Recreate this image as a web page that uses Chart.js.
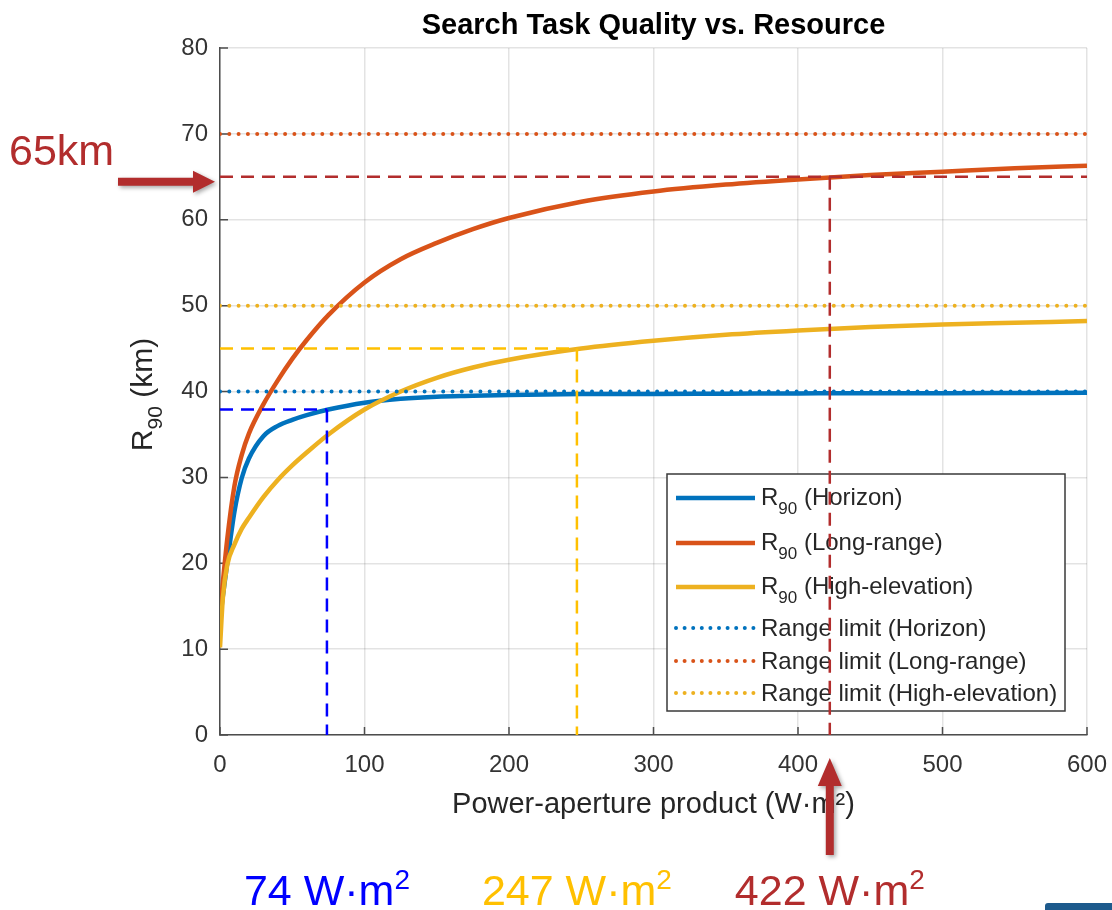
<!DOCTYPE html>
<html>
<head>
<meta charset="utf-8">
<title>Search Task Quality vs. Resource</title>
<script src="https://cdn.jsdelivr.net/npm/chart.js@4.4.1/dist/chart.umd.min.js"></script>
<style>
  html, body { margin: 0; padding: 0; background: #fff; }
  #wrap { width: 1112px; height: 910px; }
</style>
</head>
<body>
<div id="wrap"><canvas id="rangeChart" width="1112" height="910"></canvas></div>
<script>
// power-aperture product (W·m²) where the curves are sampled
const power = [0, 2, 5, 10, 15, 20, 30, 40, 50, 60, 75, 100, 125, 150, 175, 200, 250, 300, 350, 400, 450, 500, 550, 600];

// R90 (km) per search sector
const horizonR90   = [13.5, 16.2, 20.0, 26.0, 29.9, 32.2, 34.8, 36.0, 36.7, 37.25, 37.9, 38.7, 39.15, 39.4, 39.5, 39.6, 39.7, 39.72, 39.75, 39.78, 39.8, 39.8, 39.82, 39.85];
const longRangeR90 = [14.2, 17.8, 22.8, 29.0, 32.6, 35.1, 38.5, 41.3, 43.8, 46.0, 48.9, 52.7, 55.4, 57.3, 58.9, 60.2, 62.1, 63.3, 64.1, 64.7, 65.2, 65.6, 66.0, 66.3];
const highElevR90  = [10.2, 16.0, 19.8, 22.2, 24.0, 25.3, 27.7, 29.7, 31.4, 32.9, 35.0, 37.9, 40.0, 41.6, 42.8, 43.7, 45.0, 45.9, 46.6, 47.1, 47.5, 47.8, 48.0, 48.2];

// sector range limits (km)
const rangeLimits = [40, 70, 50];

// operating points: required power-aperture and the R90 reached there
const opPower = [74, 247, 422];
const opRange = [37.9, 45.0, 65];
const opGuideEnd = [74, 247, 600];   // how far the horizontal guide runs

const seriesNames = ['Horizon', 'Long-range', 'High-elevation'];
const xTicks = [0, 100, 200, 300, 400, 500, 600];
const yTicks = [0, 10, 20, 30, 40, 50, 60, 70, 80];

const FONT = '"Liberation Sans", Arial, Helvetica, sans-serif';
const curveColors = ['#0072BD', '#D95319', '#EDB120'];
const opColors = ['#0000FF', '#FFC000', '#B22D2D'];
const curves = [horizonR90, longRangeR90, highElevR90];

const datasets = [];
curves.forEach((ys, i) => {
    datasets.push({
        label: 'R90 (' + seriesNames[i] + ')',
        data: power.map((p, k) => ({ x: p, y: ys[k] })),
        borderColor: curveColors[i],
        borderWidth: 4.5,
        pointRadius: 0,
        cubicInterpolationMode: 'monotone',
        order: 5 - i
    });
});
rangeLimits.forEach((v, i) => {
    datasets.push({
        label: 'Range limit (' + seriesNames[i] + ')',
        data: [{ x: xTicks[0], y: v }, { x: xTicks[xTicks.length - 1], y: v }],
        borderColor: curveColors[i],
        borderWidth: 4,
        borderDash: [0, 9.3],
        borderCapStyle: 'round',
        pointRadius: 0,
        order: 2
    });
});
opPower.forEach((p, i) => {
    const r = opRange[i];
    const end = opGuideEnd[i];
    datasets.push({
        label: 'op' + i,
        data: [{ x: 0, y: r }, { x: end, y: r }, { x: end, y: null }, { x: p, y: r }, { x: p, y: 0 }],
        borderColor: opColors[i],
        borderWidth: 2.5,
        borderDash: [13, 8],
        pointRadius: 0,
        spanGaps: false,
        order: 1
    });
});

// text made of pieces with their own size and vertical shift (sub/superscripts)
function richWidth(ctx, parts, weight) {
    let w = 0;
    parts.forEach(p => {
        ctx.font = (weight || '') + ' ' + p.size + 'px ' + FONT;
        w += ctx.measureText(p.text).width;
    });
    return w;
}
function drawRich(ctx, parts, x, y, align, color, weight) {
    const w = richWidth(ctx, parts, weight);
    let cx = align === 'center' ? x - w / 2 : (align === 'right' ? x - w : x);
    ctx.fillStyle = color;
    ctx.textAlign = 'left';
    ctx.textBaseline = 'alphabetic';
    parts.forEach(p => {
        ctx.font = (weight || '') + ' ' + p.size + 'px ' + FONT;
        ctx.fillText(p.text, cx, y + (p.dy || 0));
        cx += ctx.measureText(p.text).width;
    });
}

function r90Parts(rest, size, subSize, subDy) {
    return [
        { text: 'R', size: size },
        { text: '90', size: subSize, dy: subDy },
        { text: rest, size: size }
    ];
}

// legend box, tick marks and the axes decoration under the curves
const underlayPlugin = {
    id: 'underlay',
    beforeDatasetsDraw(chart) {
        const ctx = chart.ctx;
        const area = chart.chartArea;
        const xs = chart.scales.x, ys = chart.scales.y;
        ctx.save();

        // inward tick marks
        ctx.strokeStyle = '#4d4d4d';
        ctx.lineWidth = 1.5;
        ctx.beginPath();
        xTicks.forEach(t => {
            const px = xs.getPixelForValue(t);
            ctx.moveTo(px, area.bottom);
            ctx.lineTo(px, area.bottom - 8);
        });
        yTicks.forEach(t => {
            const py = ys.getPixelForValue(t);
            ctx.moveTo(area.left, py);
            ctx.lineTo(area.left + 8, py);
        });
        ctx.stroke();

        // legend
        const bx = area.right - 420, by = area.bottom - 261, bw = 398, bh = 237;
        ctx.fillStyle = '#fff';
        ctx.fillRect(bx, by, bw, bh);
        ctx.strokeStyle = '#3a3a3a';
        ctx.lineWidth = 1.5;
        ctx.strokeRect(bx, by, bw, bh);

        const rows = [24, 69, 113, 154, 187, 219];
        rows.forEach((ry, i) => {
            const y = by + ry;
            const c = curveColors[i % 3];
            ctx.beginPath();
            ctx.strokeStyle = c;
            if (i < 3) {
                ctx.setLineDash([]);
                ctx.lineCap = 'butt';
                ctx.lineWidth = 4.5;
            } else {
                ctx.setLineDash([0, 8.6]);
                ctx.lineCap = 'round';
                ctx.lineWidth = 4;
            }
            ctx.moveTo(bx + 9, y);
            ctx.lineTo(bx + 88, y);
            ctx.stroke();
            ctx.setLineDash([]);
            if (i < 3) {
                drawRich(ctx, r90Parts(' (' + seriesNames[i] + ')', 24, 17, 9), bx + 94, y + 7, 'left', '#262626');
            } else {
                drawRich(ctx, [{ text: 'Range limit (' + seriesNames[i - 3] + ')', size: 24 }], bx + 94, y + 8, 'left', '#262626');
            }
        });
        ctx.restore();
    },
    afterDraw(chart) {
        const ctx = chart.ctx;
        const area = chart.chartArea;
        const xs = chart.scales.x, ys = chart.scales.y;
        const cx = (area.left + area.right) / 2;
        ctx.save();

        // title and axis titles
        drawRich(ctx, [{ text: 'Search Task Quality vs. Resource', size: 29 }], cx, 34, 'center', '#000', 'bold');
        drawRich(ctx, [{ text: 'Power-aperture product (W\u00b7m\u00b2)', size: 29 }], cx, 813, 'center', '#262626');

        ctx.save();
        ctx.translate(152, (area.top + area.bottom) / 2 + 3);
        ctx.rotate(-Math.PI / 2);
        drawRich(ctx, r90Parts(' (km)', 30, 21, 10), 0, 0, 'center', '#262626');
        ctx.restore();

        // 65 km callout with arrow
        const red = opColors[2];
        const y65 = ys.getPixelForValue(opRange[2]);
        drawRich(ctx, [{ text: opRange[2] + 'km', size: 43 }], 9, 165, 'left', red);

        ctx.shadowColor = 'rgba(0,0,0,0.35)';
        ctx.shadowBlur = 4;
        ctx.shadowOffsetX = 2;
        ctx.shadowOffsetY = 2;
        ctx.fillStyle = red;
        const ay = y65 + 5;
        ctx.beginPath();
        ctx.moveTo(118, ay - 4);
        ctx.lineTo(193, ay - 4);
        ctx.lineTo(193, ay - 11);
        ctx.lineTo(area.left - 5, ay);
        ctx.lineTo(193, ay + 11);
        ctx.lineTo(193, ay + 4);
        ctx.lineTo(118, ay + 4);
        ctx.closePath();
        ctx.fill();

        // upward arrow at the long-range operating point
        const ax = xs.getPixelForValue(opPower[2]);
        ctx.beginPath();
        ctx.moveTo(ax - 4, 855);
        ctx.lineTo(ax - 4, 786);
        ctx.lineTo(ax - 12, 786);
        ctx.lineTo(ax, 758);
        ctx.lineTo(ax + 12, 786);
        ctx.lineTo(ax + 4, 786);
        ctx.lineTo(ax + 4, 855);
        ctx.closePath();
        ctx.fill();
        ctx.shadowColor = 'transparent';

        // power-aperture values under each operating point
        opPower.forEach((p, i) => {
            const px = xs.getPixelForValue(p);
            drawRich(ctx, [
                { text: p + ' W\u00b7m', size: 43 },
                { text: '2', size: 28, dy: -16 }
            ], px, 905, 'center', opColors[i]);
        });

        // slide footer strip
        ctx.fillStyle = '#1d5a8c';
        ctx.beginPath();
        ctx.roundRect(1045, 903, 80, 12, [3, 0, 0, 0]);
        ctx.fill();
        ctx.restore();
    }
};

const ctx = document.getElementById('rangeChart').getContext('2d');
new Chart(ctx, {
    type: 'line',
    data: { datasets: datasets },
    options: {
        responsive: false,
        animation: false,
        devicePixelRatio: 1,
        layout: { padding: { top: 48, right: 25, left: 0, bottom: 0 } },
        plugins: {
            legend: { display: false },
            tooltip: { enabled: false },
            title: { display: false }
        },
        scales: {
            x: {
                type: 'linear',
                min: xTicks[0],
                max: xTicks[xTicks.length - 1],
                afterFit: scale => {
                    scale.height = 175;
                    scale.paddingLeft = 0;
                    scale.paddingRight = 0;
                },
                afterBuildTicks: scale => { scale.ticks = xTicks.map(v => ({ value: v })); },
                grid: { color: 'rgba(0,0,0,0.11)', lineWidth: 1.5, drawTicks: false },
                border: { color: '#4d4d4d', width: 1.5 },
                ticks: {
                    padding: 16,
                    maxRotation: 0,
                    autoSkip: false,
                    color: '#333',
                    font: { family: FONT, size: 24 }
                }
            },
            y: {
                type: 'linear',
                min: yTicks[0],
                max: yTicks[yTicks.length - 1],
                afterFit: scale => { scale.width = 220; },
                afterBuildTicks: scale => { scale.ticks = yTicks.map(v => ({ value: v })); },
                grid: { color: 'rgba(0,0,0,0.11)', lineWidth: 1.5, drawTicks: false },
                border: { color: '#4d4d4d', width: 1.5 },
                ticks: {
                    padding: 12,
                    color: '#333',
                    font: { family: FONT, size: 24 }
                }
            }
        }
    },
    plugins: [underlayPlugin]
});
</script>
</body>
</html>
